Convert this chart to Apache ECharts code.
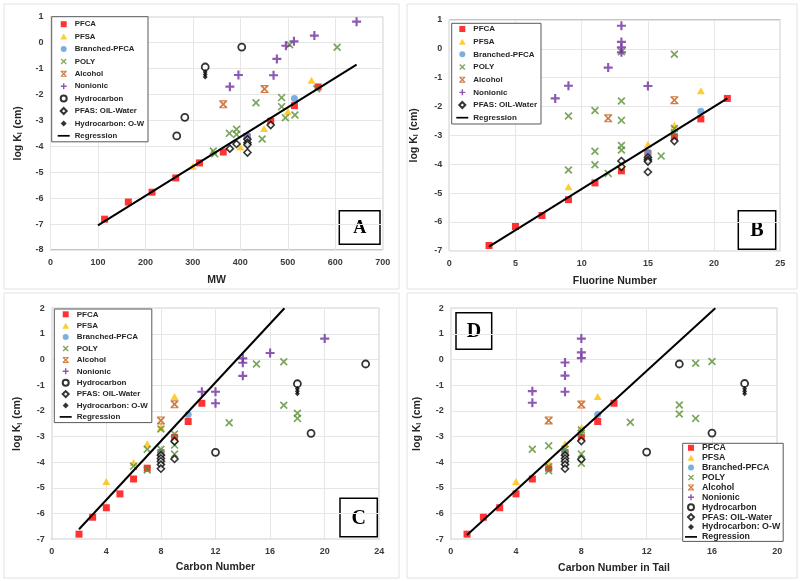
<!DOCTYPE html>
<html>
<head>
<meta charset="utf-8">
<script src="https://cdn.jsdelivr.net/npm/echarts@6/dist/echarts.min.js"></script>
<style>
  html, body { margin: 0; padding: 0; background: #fff; }
  #chart { width: 800px; height: 581px; }
</style>
</head>
<body>
<div id="chart"></div>
<script>
// ---- data: [x, log Kl] ----
// panel A : molecular weight
var mwPFCA = [[114,-6.81],[164,-6.15],[214,-5.77],[264,-5.22],[314,-4.64],[364,-4.22],[414,-3.62],[464,-3.03],[514,-2.43],[564,-1.71]];
var mwPFSA = [[300,-4.77],[400,-4.03],[450,-3.31],[500,-2.66],[550,-1.45]];
var mwBranched = [[415,-3.6],[514,-2.16]];
var mwPOLY = [[343,-4.18],[346,-4.29],[377,-3.5],[392,-3.34],[392,-3.54],[433,-2.32],[446,-3.72],[487,-2.12],[487,-2.47],[495,-2.9],[515,-2.79],[561,-1.78],[504,-0.08],[604,-0.18]];
var mwAlcohol = [[364,-2.38],[451,-1.79]];
var mwNonionic = [[378,-1.7],[396,-1.25],[470,-1.26],[477,-0.63],[496,-0.12],[513,0.05],[556,0.27],[645,0.81]];
var mwHydrocarbon = [[266,-3.6],[283,-2.88],[326,-0.94],[403,-0.17]];
var mwOilWater = [[378,-4.09],[392,-3.91],[415,-3.73],[415,-3.86],[415,-3.94],[415,-4.24],[464,-3.18]];
var mwHcOilWater = [[326,-1.13],[326,-1.23],[326,-1.33]];
var mwRegression = [[100,-7.05],[645,-0.85]];

// panel B : fluorine number
var fPFCA = [[3,-6.82],[5,-6.16],[7,-5.78],[9,-5.23],[11,-4.65],[13,-4.23],[15,-3.62],[17,-3.05],[19,-2.43],[21,-1.72]];
var fPFSA = [[9,-4.78],[13,-4.05],[15,-3.31],[17,-2.64],[19,-1.45]];
var fBranched = [[15,-3.6],[19,-2.16]];
var fPOLY = [[9,-2.33],[9,-4.2],[11,-2.14],[11,-3.55],[11,-4.02],[12,-4.32],[13,-0.1],[13,-1.81],[13,-2.48],[13,-3.35],[13,-3.51],[16,-3.72],[17,-0.19],[17,-2.76],[17,-2.91]];
var fAlcohol = [[12,-2.41],[17,-1.78]];
var fNonionic = [[8,-1.72],[9,-1.28],[12,-0.65],[13,0.8],[13,0.24],[13,0.05],[13,-0.12],[15,-1.29]];
var fOilWater = [[13,-3.89],[13,-4.09],[15,-3.77],[15,-3.85],[15,-3.91],[15,-4.27],[17,-3.2]];
var fRegression = [[3,-6.86],[21,-1.72]];

// panel C : carbon number
var cPFCA = [[2,-6.8],[3,-6.14],[4,-5.77],[5,-5.23],[6,-4.65],[7,-4.23],[8,-3.62],[9,-3.03],[10,-2.41],[11,-1.7]];
var cPFSA = [[4,-4.75],[6,-4.01],[7,-3.28],[8,-2.64],[9,-1.44]];
var cBranched = [[8,-3.6],[10,-2.14]];
var cPOLY = [[6,-4.15],[7,-3.49],[7,-4.3],[8,-2.7],[8,-3.49],[9,-2.9],[9,-3.33],[9,-3.68],[13,-2.46],[15,-0.17],[17,-0.08],[17,-1.78],[18,-2.09],[18,-2.29]];
var cAlcohol = [[8,-2.37],[9,-1.74]];
var cNonionic = [[11,-1.25],[12,-1.25],[12,-1.7],[14,0.05],[14,-0.12],[14,-0.63],[16,0.26],[20,0.82]];
var cHydrocarbon = [[12,-3.61],[18,-0.94],[19,-2.87],[23,-0.17]];
var cOilWater = [[8,-3.73],[8,-3.85],[8,-3.96],[8,-4.09],[8,-4.25],[9,-3.18],[9,-3.87]];
var cHcOilWater = [[18,-1.13],[18,-1.23],[18,-1.33]];
var cRegression = [[2,-6.61],[17.05,2]];

// panel D : carbon number in tail
var tPFCA = [[1,-6.8],[2,-6.14],[3,-5.77],[4,-5.23],[5,-4.65],[6,-4.23],[7,-3.62],[8,-3.03],[9,-2.41],[10,-1.7]];
var tPFSA = [[4,-4.75],[6,-4.01],[7,-3.28],[8,-2.64],[9,-1.44]];
var tBranched = [[7,-3.6],[9,-2.14]];
var tPOLY = [[5,-3.49],[6,-3.36],[6,-4.17],[6,-4.33],[7,-3.49],[8,-2.74],[8,-2.87],[8,-3.68],[8,-4.04],[11,-2.44],[14,-1.77],[14,-2.12],[15,-2.29],[15,-0.14],[16,-0.07]];
var tAlcohol = [[6,-2.37],[8,-1.75]];
var tNonionic = [[5,-1.23],[5,-1.68],[7,-0.11],[7,-0.62],[7,-1.25],[8,0.82],[8,0.28],[8,0.06]];
var tHydrocarbon = [[12,-3.6],[14,-0.17],[16,-2.86],[18,-0.93]];
var tOilWater = [[7,-3.73],[7,-3.85],[7,-3.96],[7,-4.09],[7,-4.25],[8,-3.17],[8,-3.88]];
var tHcOilWater = [[18,-1.13],[18,-1.23],[18,-1.33]];
var tRegression = [[1,-6.83],[16.2,2]];

var xNames = ['MW', 'Fluorine Number', 'Carbon Number', 'Carbon Number in Tail'];
var panelLetters = ['A', 'B', 'C', 'D'];

// ---- styles ----
var FONT = 'Liberation Sans, Arial, sans-serif';
// marker shapes as paths so the legend keeps their aspect
var squareMark = 'path://M0,0H10V10H0Z';
var triMark = 'path://M5,0L10,8.7H0Z';
var diamondMark = 'path://M5,0L10,5L5,10L0,5Z';
var xMark = 'path://M0,1.5L1.5,0L5,3.5L8.5,0L10,1.5L6.5,5L10,8.5L8.5,10L5,6.5L1.5,10L0,8.5L3.5,5Z';
var starMark = 'path://M0,1.5L1.5,0L5,3.5L8.5,0L10,1.5L6.5,5L10,8.5L8.5,10L5,6.5L1.5,10L0,8.5L3.5,5Z M0,0H10V1.4H0Z M0,8.6H10V10H0Z';
var plusMark = 'path://M3.8,0H6.2V3.8H10V6.2H6.2V10H3.8V6.2H0V3.8H3.8Z';
var lineIcon = 'path://M0,0H12V1.7H0Z';

var markers = {
  'PFCA': { symbol: squareMark, symbolSize: 7, itemStyle: { color: '#FF0000' } },
  'PFSA': { symbol: triMark, symbolSize: 8, itemStyle: { color: '#FFC000' } },
  'Branched-PFCA': { symbol: 'circle', symbolSize: 7, itemStyle: { color: '#5B9BD5' } },
  'POLY': { symbol: xMark, symbolSize: 8, itemStyle: { color: '#5A8F34' } },
  'Alcohol': { symbol: starMark, symbolSize: 8, itemStyle: { color: '#C55A11' } },
  'Nonionic': { symbol: plusMark, symbolSize: 9, itemStyle: { color: '#7030A0' } },
  'Hydrocarbon': { symbol: 'circle', symbolSize: 7, itemStyle: { color: '#fff', borderColor: '#000', borderWidth: 1.8 } },
  'PFAS: OIL-Water': { symbol: diamondMark, symbolSize: 7, itemStyle: { color: '#fff', borderColor: '#000', borderWidth: 1.6 } },
  'Hydrocarbon: O-W': { symbol: diamondMark, symbolSize: 5, itemStyle: { color: '#000' } }
};

var panels = [
  { groups: [['PFCA', mwPFCA], ['PFSA', mwPFSA], ['Branched-PFCA', mwBranched], ['POLY', mwPOLY], ['Alcohol', mwAlcohol], ['Nonionic', mwNonionic], ['Hydrocarbon', mwHydrocarbon], ['PFAS: OIL-Water', mwOilWater], ['Hydrocarbon: O-W', mwHcOilWater]], reg: mwRegression },
  { groups: [['PFCA', fPFCA], ['PFSA', fPFSA], ['Branched-PFCA', fBranched], ['POLY', fPOLY], ['Alcohol', fAlcohol], ['Nonionic', fNonionic], ['PFAS: OIL-Water', fOilWater]], reg: fRegression },
  { groups: [['PFCA', cPFCA], ['PFSA', cPFSA], ['Branched-PFCA', cBranched], ['POLY', cPOLY], ['Alcohol', cAlcohol], ['Nonionic', cNonionic], ['Hydrocarbon', cHydrocarbon], ['PFAS: OIL-Water', cOilWater], ['Hydrocarbon: O-W', cHcOilWater]], reg: cRegression },
  { groups: [['PFCA', tPFCA], ['PFSA', tPFSA], ['Branched-PFCA', tBranched], ['POLY', tPOLY], ['Alcohol', tAlcohol], ['Nonionic', tNonionic], ['Hydrocarbon', tHydrocarbon], ['PFAS: OIL-Water', tOilWater], ['Hydrocarbon: O-W', tHcOilWater]], reg: tRegression }
];

// ---- layout (pixels) ----
var grids = [
  { left: 50.5, top: 16.7, width: 332.2, height: 233.3 },
  { left: 449.3, top: 20, width: 331, height: 230.7 },
  { left: 51.7, top: 308.3, width: 327.6, height: 231 },
  { left: 450.7, top: 308.3, width: 326.6, height: 231 }
];
var xRanges = [[0, 700, 100], [0, 25, 5], [0, 24, 4], [0, 20, 4]];
var yRanges = [[-8, 1], [-7, 1], [-7, 2], [-7, 2]];
var xNameGap = [25, 25, 22, 23.5];
var yNameGap = [26.5, 29.5, 28.5, 28];
var legendBoxes = [
  { left: 51.7, top: 16.7, padding: [3.5, 4, 2, 6], itemGap: 4.4, fontSize: 7.8 },
  { left: 451.7, top: 23.3, padding: [1.7, 4, 2.3, 4.6], itemGap: 4.67, fontSize: 8 },
  { left: 54.3, top: 309, padding: [1.3, 4, 1.7, 5.4], itemGap: 3.4, fontSize: 8 },
  { left: 682.7, top: 443.3, padding: [0, 3, 0, 2.3], itemGap: 0.9, fontSize: 8.8 }
];
var letterBoxes = [
  { x: 339.3, y: 210.7, w: 40.7, h: 33.6, fs: 18 },
  { x: 738.3, y: 210.7, w: 37.4, h: 38.6, fs: 20 },
  { x: 340, y: 498.3, w: 37.3, h: 38.4, fs: 20 },
  { x: 456, y: 312.7, w: 35.7, h: 36.6, fs: 20 }
];
var frames = [[4, 4, 395, 285], [407, 4, 390, 285], [4, 293, 395, 285], [407, 293, 390, 285]];

var option = {
  animation: false,
  backgroundColor: '#fff',
  grid: [], xAxis: [], yAxis: [], legend: [], series: [], graphic: []
};

frames.forEach(function (f) {
  option.graphic.push({ type: 'rect', shape: { x: f[0], y: f[1], width: f[2], height: f[3] },
    style: { fill: 'none', stroke: '#e2e2e2', lineWidth: 1 }, z: -10 });
});

panels.forEach(function (p, i) {
  option.grid.push(Object.assign({ show: true, borderColor: '#8a8a8a', borderWidth: 1, backgroundColor: 'transparent' }, grids[i]));

  option.xAxis.push({
    gridIndex: i, type: 'value',
    min: xRanges[i][0], max: xRanges[i][1], interval: xRanges[i][2],
    name: xNames[i], nameLocation: 'middle', nameGap: xNameGap[i],
    nameTextStyle: { fontFamily: FONT, fontWeight: 'bold', fontSize: 10.5, color: '#262626' },
    axisLine: { show: false }, axisTick: { show: false },
    axisLabel: { fontFamily: FONT, fontWeight: 'bold', fontSize: 9, color: '#3a3a3a', margin: 8 },
    splitLine: { lineStyle: { color: '#e6e6e6' } }
  });

  option.yAxis.push({
    gridIndex: i, type: 'value',
    min: yRanges[i][0], max: yRanges[i][1], interval: 1,
    name: '{a|log K}{s|l}{a| (cm)}', nameLocation: 'middle', nameGap: yNameGap[i],
    nameTextStyle: {
      rich: {
        a: { fontFamily: FONT, fontWeight: 'bold', fontSize: 10.5, color: '#262626', lineHeight: 12 },
        s: { fontFamily: FONT, fontWeight: 'bold', fontSize: 7, color: '#262626', lineHeight: 12, padding: [5, 1, 0, 0] }
      }
    },
    axisLine: { show: false }, axisTick: { show: false },
    axisLabel: { fontFamily: FONT, fontWeight: 'bold', fontSize: 9, color: '#3a3a3a', margin: 7 },
    splitLine: { lineStyle: { color: '#e6e6e6' } }
  });

  var names = [];
  p.groups.forEach(function (g) {
    var m = markers[g[0]];
    names.push(g[0]);
    option.series.push({
      type: 'scatter', name: g[0], xAxisIndex: i, yAxisIndex: i,
      symbol: m.symbol, symbolSize: m.symbolSize, symbolKeepAspect: true, itemStyle: m.itemStyle,
      data: g[1]
    });
  });
  names.push({ name: 'Regression', icon: lineIcon });
  option.series.push({
    type: 'line', name: 'Regression', xAxisIndex: i, yAxisIndex: i,
    data: p.reg, symbol: 'none', lineStyle: { color: '#000', width: 2 }, itemStyle: { color: '#000' }
  });

  var lb = legendBoxes[i];
  option.legend.push({
    orient: 'vertical', left: lb.left, top: lb.top, padding: lb.padding,
    itemWidth: 12, itemHeight: 6, itemGap: lb.itemGap, selectedMode: false, symbolKeepAspect: true,
    backgroundColor: '#fff', borderColor: '#595959', borderWidth: 1,
    textStyle: { fontFamily: FONT, fontWeight: 'bold', fontSize: lb.fontSize, color: '#262626' },
    data: names
  });

  var b = letterBoxes[i];
  option.graphic.push({
    type: 'group', z: 100,
    children: [
      { type: 'rect', shape: { x: b.x, y: b.y, width: b.w, height: b.h },
        style: { fill: '#fff', stroke: '#000', lineWidth: 1.5 } },
      { type: 'text', x: b.x + b.w / 2, y: b.y + b.h / 2 + 1,
        style: { text: panelLetters[i], font: 'bold ' + b.fs + 'px "Liberation Serif", "Times New Roman", serif',
          fill: '#000', align: 'center', verticalAlign: 'middle' } }
    ]
  });
});

var chart = echarts.init(document.getElementById('chart'));
chart.setOption(option);
</script>
</body>
</html>
